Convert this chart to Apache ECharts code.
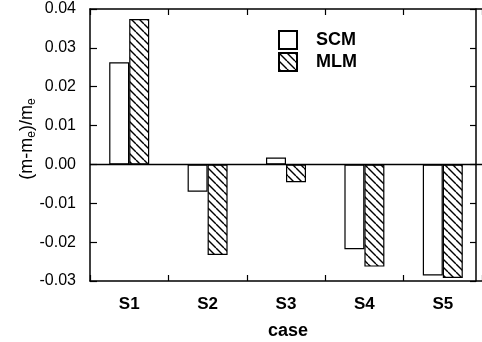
<!DOCTYPE html>
<html>
<head>
<meta charset="utf-8">
<script src="https://cdn.jsdelivr.net/npm/echarts@6/dist/echarts.min.js"></script>
<style>
  html, body { margin: 0; padding: 0; background: #fff; }
  #chart { width: 482px; height: 342px; }
</style>
</head>
<body>
<div id="chart"></div>
<script>
// Relative mass deviation per case for the two models
const categories = ['S1', 'S2', 'S3', 'S4', 'S5'];
const scmValues = [0.0263, -0.0070, 0.0018, -0.0218, -0.0286];
const mlmValues = [0.0374, -0.0233, -0.0046, -0.0263, -0.0292];
const yTickValues = [-0.03, -0.02, -0.01, 0.00, 0.01, 0.02, 0.03, 0.04];
const yTickLabels = ['-0.03', '-0.02', '-0.01', '0.00', '0.01', '0.02', '0.03', '0.04'];

const FONT = '"Liberation Sans", Arial, Helvetica, sans-serif';

// Diagonal hatch tile ("\\" direction) used for the MLM bars
function makeHatch() {
  const size = 8;
  const c = document.createElement('canvas');
  c.width = size; c.height = size;
  const ctx = c.getContext('2d');
  ctx.fillStyle = '#fff';
  ctx.fillRect(0, 0, size, size);
  ctx.strokeStyle = '#000';
  ctx.lineWidth = 1.4;
  [-size, 0, size].forEach(function (k) {
    ctx.beginPath();
    ctx.moveTo(0, k);
    ctx.lineTo(size, size + k);
    ctx.stroke();
  });
  return c;
}

function tickLabel(v) {
  let best = 0, bd = Infinity;
  yTickValues.forEach(function (t, i) {
    const d = Math.abs(t - v);
    if (d < bd) { bd = d; best = i; }
  });
  return yTickLabels[best];
}

const chart = echarts.init(document.getElementById('chart'), null, { renderer: 'canvas' });

chart.setOption({
  animation: false,
  backgroundColor: '#fff',
  grid: { left: 90, top: 9, width: 400, height: 272, containLabel: false },
  legend: {
    orient: 'vertical',
    left: 278,
    top: 30,
    padding: 0,
    itemWidth: 18,
    itemHeight: 18,
    itemGap: 2,
    icon: 'rect',
    selectedMode: false,
    textStyle: { fontFamily: FONT, fontSize: 18, fontWeight: 'bold', color: '#000', padding: [0, 0, 0, 14] },
    data: ['SCM', 'MLM']
  },
  xAxis: [
    {
      type: 'category',
      data: categories,
      position: 'bottom',
      axisLine: { onZero: false, show: true, lineStyle: { color: '#000', width: 1.5 } },
      axisTick: { show: true, inside: true, length: 6, lineStyle: { color: '#000', width: 1.2 } },
      axisLabel: { fontFamily: FONT, fontSize: 17, fontWeight: 'bold', color: '#000', margin: 15 },
      splitLine: { show: false }
    },
    {
      type: 'category',
      data: categories,
      position: 'top',
      axisLine: { onZero: false, show: true, lineStyle: { color: '#000', width: 1.5 } },
      axisTick: { show: true, inside: true, length: 6, lineStyle: { color: '#000', width: 1.2 } },
      axisLabel: { show: false },
      splitLine: { show: false }
    }
  ],
  yAxis: [
    {
      type: 'value',
      min: -0.03,
      max: 0.04,
      interval: 0.01,
      position: 'left',
      axisLine: { show: true, lineStyle: { color: '#000', width: 1.5 } },
      axisTick: { show: true, inside: true, length: 7, lineStyle: { color: '#000', width: 1.2 } },
      axisLabel: { fontFamily: FONT, fontSize: 16, color: '#000', margin: 14, padding: [3, 0, 0, 0], formatter: tickLabel },
      splitLine: { show: false }
    },
    {
      type: 'value',
      min: -0.03,
      max: 0.04,
      interval: 0.01,
      position: 'right',
      offset: -6,
      axisLine: { show: true, lineStyle: { color: '#000', width: 1.5 } },
      axisTick: { show: true, inside: true, length: 6, lineStyle: { color: '#000', width: 1.2 } },
      axisLabel: { show: false },
      splitLine: { show: false }
    }
  ],
  graphic: [
    {
      type: 'text',
      x: 27,
      y: 139,
      rotation: Math.PI / 2,
      style: {
        text: '{a|(m-m}{s|e}{a|)/m}{s|e}',
        align: 'center',
        verticalAlign: 'middle',
        fill: '#000',
        rich: {
          a: { fontFamily: FONT, fontSize: 18, fill: '#000' },
          s: { fontFamily: FONT, fontSize: 12, fill: '#000', padding: [10, 0, 0, 0] }
        }
      }
    },
    {
      type: 'text',
      x: 288,
      y: 331,
      style: {
        text: 'case',
        align: 'center',
        verticalAlign: 'middle',
        fill: '#000',
        fontFamily: FONT,
        fontSize: 18,
        fontWeight: 'bold'
      }
    }
  ],
  series: [
    {
      name: 'SCM',
      type: 'bar',
      data: scmValues,
      barWidth: 20,
      barGap: '0%',
      itemStyle: { color: '#fff', borderColor: '#000', borderWidth: 1.2 },
      markLine: {
        silent: true,
        symbol: 'none',
        label: { show: false },
        lineStyle: { color: '#000', width: 1.3, type: 'solid' },
        data: [{ yAxis: 0 }]
      }
    },
    {
      name: 'MLM',
      type: 'bar',
      data: mlmValues,
      barWidth: 20,
      barGap: '0%',
      itemStyle: {
        color: { image: makeHatch(), repeat: 'repeat' },
        borderColor: '#000',
        borderWidth: 1.2
      }
    }
  ]
});
</script>
</body>
</html>
